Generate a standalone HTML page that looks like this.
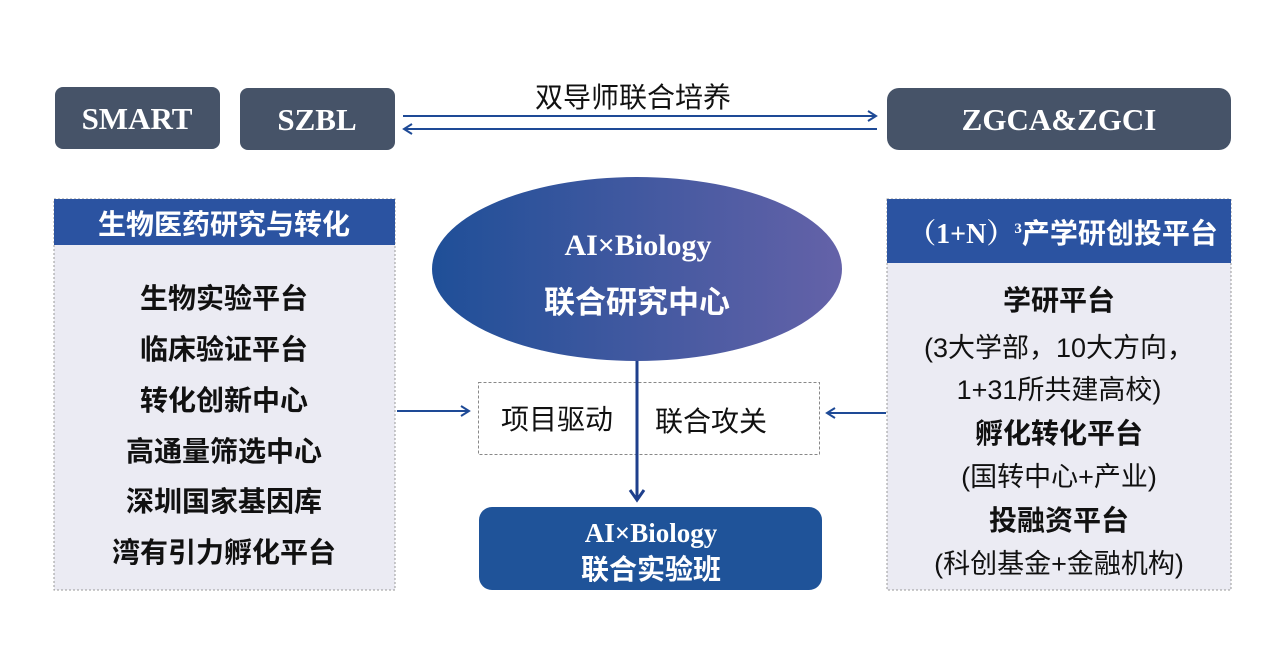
<!DOCTYPE html>
<html><head><meta charset="utf-8"><style>
body{margin:0;background:#fff;}
svg{display:block}
.b{font-family:"Liberation Sans","Noto Sans CJK SC",sans-serif;font-weight:bold}
.n{font-family:"Liberation Sans","Noto Sans CJK SC",sans-serif}
.s{font-family:"Liberation Serif","Noto Serif CJK SC",serif;font-weight:bold}
</style></head><body>
<svg width="1280" height="648" viewBox="0 0 1280 648">
<defs>
<linearGradient id="g" x1="0" x2="1" y1="0" y2="0"><stop offset="0" stop-color="#1f4f98"/><stop offset="1" stop-color="#6462a8"/></linearGradient>
</defs>
<rect x="55" y="87" width="165" height="62" rx="8" fill="#465368"/>
<text x="137" y="129" class="s" font-size="31" fill="#fff" text-anchor="middle">SMART</text>
<rect x="240" y="88" width="155" height="62" rx="8" fill="#465368"/>
<text x="317" y="130" class="s" font-size="31" fill="#fff" text-anchor="middle">SZBL</text>
<rect x="887" y="88" width="344" height="62" rx="12" fill="#465368"/>
<text x="1059" y="130" class="s" font-size="31" fill="#fff" text-anchor="middle">ZGCA&amp;ZGCI</text>
<text x="633" y="107" class="n" font-size="28" fill="#111" text-anchor="middle">双导师联合培养</text>
<g stroke="#1e4a96" stroke-width="2" fill="none">
<line x1="403" y1="116" x2="876" y2="116"/><polyline points="868,111 876,116 868,121"/>
<line x1="404" y1="129" x2="877" y2="129"/><polyline points="412,124 404,129 412,134"/>
<line x1="397" y1="411" x2="469" y2="411"/><polyline points="461,406 469,411 461,416"/>
<line x1="886" y1="413" x2="827" y2="413"/><polyline points="835,408 827,413 835,418"/>
</g>
<rect x="54" y="199" width="341" height="391" fill="#ebebf3" stroke="#999" stroke-dasharray="2,2"/>
<rect x="54" y="199" width="341" height="46" fill="#2b53a1"/>
<text x="224" y="234" class="b" font-size="28" fill="#fff" text-anchor="middle">生物医药研究与转化</text>
<g class="b" font-size="28" fill="#111" text-anchor="middle">
<text x="224" y="308">生物实验平台</text>
<text x="224" y="359">临床验证平台</text>
<text x="224" y="410">转化创新中心</text>
<text x="224" y="461">高通量筛选中心</text>
<text x="224" y="511">深圳国家基因库</text>
<text x="224" y="562">湾有引力孵化平台</text>
</g>
<rect x="887" y="199" width="344" height="391" fill="#ebebf3" stroke="#999" stroke-dasharray="2,2"/>
<rect x="887" y="199" width="344" height="64" fill="#2b53a1"/>
<text x="1063" y="243" font-size="28" fill="#fff" text-anchor="middle"><tspan class="s">（1+N）</tspan><tspan class="s" font-size="15" dy="-10">3</tspan><tspan class="b" dy="10">产学研创投平台</tspan></text>
<g font-size="27" fill="#111" text-anchor="middle">
<text x="1059" y="310" class="b" font-size="28">学研平台</text>
<text x="1059" y="357" class="n">(3大学部，10大方向，</text>
<text x="1059" y="399" class="n">1+31所共建高校)</text>
<text x="1059" y="443" class="b" font-size="28">孵化转化平台</text>
<text x="1059" y="486" class="n">(国转中心+产业)</text>
<text x="1059" y="530" class="b" font-size="28">投融资平台</text>
<text x="1059" y="573" class="n">(科创基金+金融机构)</text>
</g>
<ellipse cx="637" cy="269" rx="205" ry="92" fill="url(#g)"/>
<text x="638" y="255" class="s" font-size="30" fill="#fff" text-anchor="middle">AI×Biology</text>
<text x="637" y="313" class="b" font-size="31" fill="#fff" text-anchor="middle">联合研究中心</text>
<rect x="478.5" y="382.5" width="341" height="72" fill="#fff" stroke="#888" stroke-dasharray="3,2"/>
<text x="557" y="429" class="n" font-size="28" fill="#111" text-anchor="middle">项目驱动</text>
<text x="711" y="431" class="n" font-size="28" fill="#111" text-anchor="middle">联合攻关</text>
<g stroke="#1e3f8c" stroke-width="3" fill="none">
<line x1="637" y1="361" x2="637" y2="500"/><polyline points="630,490 637,500 644,490"/>
</g>
<rect x="479" y="507" width="343" height="83" rx="13" fill="#1f5399"/>
<text x="651" y="542" class="s" font-size="27" fill="#fff" text-anchor="middle">AI×Biology</text>
<text x="651" y="579" class="b" font-size="28" fill="#fff" text-anchor="middle">联合实验班</text>
</svg>
</body></html>
